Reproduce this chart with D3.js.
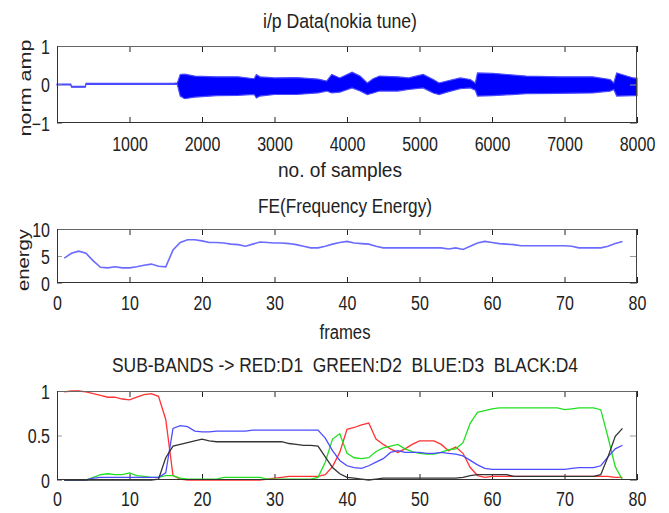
<!DOCTYPE html>
<html><head><meta charset="utf-8">
<script src="https://cdn.jsdelivr.net/npm/d3@7"></script>
<style>
html,body{margin:0;padding:0;background:#fff;}
svg{display:block;}
text{font-family:"Liberation Sans",Arial,sans-serif;fill:#222;}
</style></head>
<body><svg id="c" width="669" height="513"></svg>
<script>
// ---------- DATA ----------
// Panel 1: envelope of input waveform (nokia tune)
const sampleIdx = [0,190,200,390,400,1620,1660,1700,1760,1900,2200,2500,2720,2750,2800,3000,3300,3600,3720,3790,3900,4070,4180,4280,4360,4450,4700,4850,5050,5190,5270,5380,5560,5700,5770,5800,6010,6470,6940,7390,7630,7680,7720,7950,8000];
const envUpper = [0.01,0.01,-0.05,-0.05,0.03,0.035,0.04,0.26,0.27,0.22,0.20,0.20,0.15,0.26,0.20,0.17,0.18,0.14,0.09,0.26,0.17,0.32,0.22,0.04,0.15,0.22,0.20,0.17,0.26,0.13,0.04,0.09,0.17,0.13,0.04,0.30,0.29,0.22,0.20,0.20,0.13,0.04,0.30,0.17,0.16];
const envLower = [-0.01,-0.01,-0.07,-0.07,0.01,0.005,0.0,-0.30,-0.37,-0.33,-0.29,-0.28,-0.26,-0.35,-0.30,-0.26,-0.26,-0.22,-0.17,-0.22,-0.20,-0.09,-0.17,-0.26,-0.22,-0.17,-0.17,-0.13,-0.09,-0.22,-0.26,-0.20,-0.11,-0.09,-0.15,-0.30,-0.29,-0.24,-0.23,-0.22,-0.17,-0.13,-0.30,-0.29,-0.29];
const topXTicks = [1000,2000,3000,4000,5000,6000,7000,8000];
const topYTicks = [-1,0,1];

// Panel 2: frequency energy per frame (frames 1..78)
const feEnergy = [4.6,5.5,5.9,5.5,4.1,2.9,2.8,3.0,2.8,2.8,
3.0,3.3,3.5,3.1,3.0,6.1,7.5,8.0,8.0,7.8,
7.5,7.5,7.4,7.2,7.1,6.8,7.2,7.6,7.5,7.4,
7.4,7.3,7.1,6.8,6.5,6.5,6.8,7.2,7.5,7.7,
7.4,7.3,7.2,6.8,6.5,6.5,6.5,6.5,6.5,6.5,
6.5,6.5,6.5,6.3,6.5,6.2,6.8,7.4,7.7,7.5,
7.3,7.2,7.1,6.9,6.9,6.9,6.9,6.9,6.9,6.9,
6.8,6.5,6.5,6.5,6.5,6.8,7.3,7.7];
const frameTicks = [0,10,20,30,40,50,60,70,80];
const feYTicks = [0,5,10];

// Panel 3: sub-band energies D1..D4 per frame
const d1Red = [0.99,1.0,1.0,0.99,0.97,0.95,0.93,0.93,0.91,0.90,
0.93,0.96,0.97,0.94,0.68,0.05,0.01,0.0,0.0,0.0,
0.0,0.0,0.0,0.0,0.0,0.0,0.0,0.0,0.01,0.02,
0.03,0.04,0.04,0.04,0.04,0.04,0.06,0.15,0.31,0.57,
0.59,0.62,0.64,0.46,0.40,0.35,0.31,0.35,0.40,0.44,
0.44,0.44,0.40,0.33,0.37,0.30,0.14,0.05,0.03,0.04,
0.04,0.04,0.04,0.04,0.04,0.04,0.04,0.04,0.04,0.04,
0.04,0.04,0.04,0.04,0.04,0.04,0.03,0.03];
const d2Green = [0.0,0.0,0.0,0.0,0.03,0.06,0.07,0.06,0.06,0.08,
0.05,0.04,0.03,0.03,0.05,0.05,0.02,0.01,0.01,0.01,
0.01,0.01,0.03,0.03,0.03,0.03,0.03,0.03,0.01,0.01,
0.01,0.01,0.01,0.01,0.01,0.03,0.20,0.46,0.52,0.30,
0.25,0.24,0.25,0.32,0.36,0.38,0.40,0.35,0.32,0.30,
0.29,0.29,0.31,0.34,0.35,0.42,0.64,0.76,0.78,0.80,
0.81,0.81,0.81,0.81,0.81,0.81,0.81,0.81,0.81,0.79,
0.80,0.81,0.81,0.81,0.79,0.48,0.15,0.0];
const d3Blue = [0.0,0.0,0.0,0.0,0.02,0.03,0.03,0.03,0.03,0.03,
0.03,0.03,0.03,0.03,0.08,0.58,0.61,0.60,0.55,0.54,
0.54,0.55,0.55,0.55,0.55,0.55,0.56,0.56,0.56,0.56,
0.56,0.56,0.56,0.56,0.56,0.56,0.47,0.33,0.22,0.16,
0.14,0.13,0.16,0.20,0.24,0.31,0.33,0.31,0.31,0.31,
0.30,0.30,0.31,0.30,0.29,0.27,0.22,0.17,0.13,0.12,
0.12,0.12,0.12,0.12,0.12,0.12,0.12,0.12,0.12,0.12,
0.13,0.14,0.14,0.14,0.16,0.26,0.35,0.39];
const d4Black = [0,0,0,0,0,0,0,0,0,0,
0,0,0,0.01,0.25,0.38,0.40,0.42,0.44,0.46,
0.44,0.43,0.43,0.43,0.43,0.43,0.43,0.43,0.43,0.43,
0.43,0.41,0.40,0.39,0.39,0.38,0.26,0.14,0.07,0.03,
0.02,0.01,0.0,0.01,0.02,0.02,0.02,0.02,0.02,0.02,
0.02,0.02,0.02,0.02,0.02,0.03,0.05,0.06,0.06,0.06,
0.06,0.06,0.04,0.04,0.04,0.04,0.04,0.04,0.04,0.04,
0.04,0.04,0.04,0.04,0.06,0.26,0.49,0.58];
const bandYTicks = [0,0.5,1];

const titles = ["i/p Data(nokia tune)", "FE(Frequency Energy)", "SUB-BANDS -> RED:D1  GREEN:D2  BLUE:D3  BLACK:D4"];

// ---------- DRAW ----------
const svg = d3.select("#c");
const L = 57, R = 637;
const SY = 1.25;

function txt(g, x, y, s, opt = {}) {
  const t = g.append("text")
    .attr("transform", `translate(${x},${y}) ${opt.rot ? "rotate(-90)" : ""} scale(1,${opt.sy || SY})`)
    .attr("text-anchor", opt.anchor || "middle")
    .style("font-size", (opt.fs || 16) + "px")
    .style("white-space", "pre")
    .text(s);
  if (opt.len) t.attr("textLength", opt.len).attr("lengthAdjust", "spacingAndGlyphs");
  if (opt.base) t.attr("dominant-baseline", opt.base);
  return t;
}

function frame(top, bottom, x, y, xTicks, yTicks, xFmt, yFmt, labelOff) {
  const g = svg.append("g");
  // bottom axis with labels (ticks inward)
  const ax = g.append("g").attr("transform", `translate(0,${bottom})`)
    .call(d3.axisBottom(x).tickValues(xTicks).tickSizeInner(-6).tickSizeOuter(0).tickFormat(xFmt));
  ax.select(".domain").remove();
  ax.selectAll("line").attr("stroke", "#222");
  ax.selectAll("text").attr("x", 0).attr("y", 0).attr("dy", 0)
    .attr("transform", `translate(0,${labelOff}) scale(1,${SY})`)
    .style("font-size", "16px").attr("fill", "#222");
  // top axis ticks
  const at = g.append("g").attr("transform", `translate(0,${top})`)
    .call(d3.axisTop(x).tickValues(xTicks).tickSizeInner(-6).tickSizeOuter(0).tickFormat(""));
  at.select(".domain").remove();
  at.selectAll("line").attr("stroke", "#222");
  // left axis
  const al = g.append("g").attr("transform", `translate(${L},0)`)
    .call(d3.axisLeft(y).tickValues(yTicks).tickSizeInner(-5).tickSizeOuter(0).tickFormat(yFmt));
  al.select(".domain").remove();
  al.selectAll("line").attr("stroke", "#999");
  al.selectAll("text").attr("x", 0).attr("dy", 0)
    .attr("transform", `translate(-7,7) scale(1,${SY})`)
    .style("font-size", "16px").attr("fill", "#222");
  // right axis ticks
  const ar = g.append("g").attr("transform", `translate(${R},0)`)
    .call(d3.axisRight(y).tickValues(yTicks).tickSizeInner(-7).tickSizeOuter(0).tickFormat(""));
  ar.select(".domain").remove();
  ar.selectAll("line").attr("stroke", "#999");
  return g;
}

function box(top, bottom) {
  svg.append("line").attr("x1", L).attr("x2", R).attr("y1", top + 0.5).attr("y2", top + 0.5).attr("stroke", "#666");
  svg.append("line").attr("x1", R - 0.5).attr("x2", R - 0.5).attr("y1", top).attr("y2", bottom).attr("stroke", "#444");
  svg.append("line").attr("x1", L + 0.5).attr("x2", L + 0.5).attr("y1", top).attr("y2", bottom).attr("stroke", "#333");
  svg.append("line").attr("x1", L).attr("x2", R).attr("y1", bottom - 0.5).attr("y2", bottom - 0.5).attr("stroke", "#333");
}

// ---- Panel 1 ----
{
  const top = 46, bottom = 123;
  const x = d3.scaleLinear().domain([0, 8000]).range([L, R]);
  const y = d3.scaleLinear().domain([-1, 1]).range([bottom, top]);
  const pts = sampleIdx.map((s, i) => ({ s, u: envUpper[i], l: envLower[i] }));
  svg.append("path").datum(pts)
    .attr("d", d3.area().x(d => x(d.s)).y0(d => y(d.l)).y1(d => y(d.u)).curve(d3.curveStepAfter === undefined ? d3.curveLinear : d3.curveLinear))
    .attr("fill", "#0000ff").attr("stroke", "#4a4aff").attr("stroke-width", 1.2);
  frame(top, bottom, x, y, topXTicks, topYTicks, d3.format("d"), d3.format("d"), 28);
  box(top, bottom);
  txt(svg, 340, 28, titles[0], { len: 154 });
  txt(svg, 340, 177, "no. of samples", { len: 124 });
  txt(svg, 31, 88, "norm amp", { rot: true, len: 97, sy: 1 });
}

// ---- Panel 2 ----
{
  const top = 229, bottom = 283;
  const x = d3.scaleLinear().domain([0, 80]).range([L, R]);
  const y = d3.scaleLinear().domain([0, 10]).range([bottom, top]);
  frame(top, bottom, x, y, frameTicks, feYTicks, d3.format("d"), d3.format("d"), 27);
  svg.append("path").datum(feEnergy)
    .attr("d", d3.line().x((d, i) => x(i + 1)).y(d => y(d)))
    .attr("fill", "none").attr("stroke", "#6b6bff").attr("stroke-width", 1.6);
  box(top, bottom);
  txt(svg, 345, 213, titles[1], { len: 174 });
  txt(svg, 345, 339, "frames", { len: 51 });
  txt(svg, 29, 260, "energy", { rot: true, len: 62, sy: 1 });
}

// ---- Panel 3 ----
{
  const top = 391, bottom = 480;
  const x = d3.scaleLinear().domain([0, 80]).range([L, R]);
  const y = d3.scaleLinear().domain([0, 1]).range([bottom, top]);
  frame(top, bottom, x, y, frameTicks, bandYTicks, d3.format("d"), d3.format("~g"), 26);
  const series = [[d1Red, "#ff3333"], [d2Green, "#22e022"], [d3Blue, "#4d4dff"], [d4Black, "#333333"]];
  const line = d3.line().x((d, i) => x(i + 1)).y(d => y(d));
  series.forEach(([vals, col]) => {
    svg.append("path").datum(vals).attr("d", line)
      .attr("fill", "none").attr("stroke", col).attr("stroke-width", 1.3);
  });
  box(top, bottom);
  txt(svg, 345, 372, titles[2], { len: 466 });
}
</script></body></html>
